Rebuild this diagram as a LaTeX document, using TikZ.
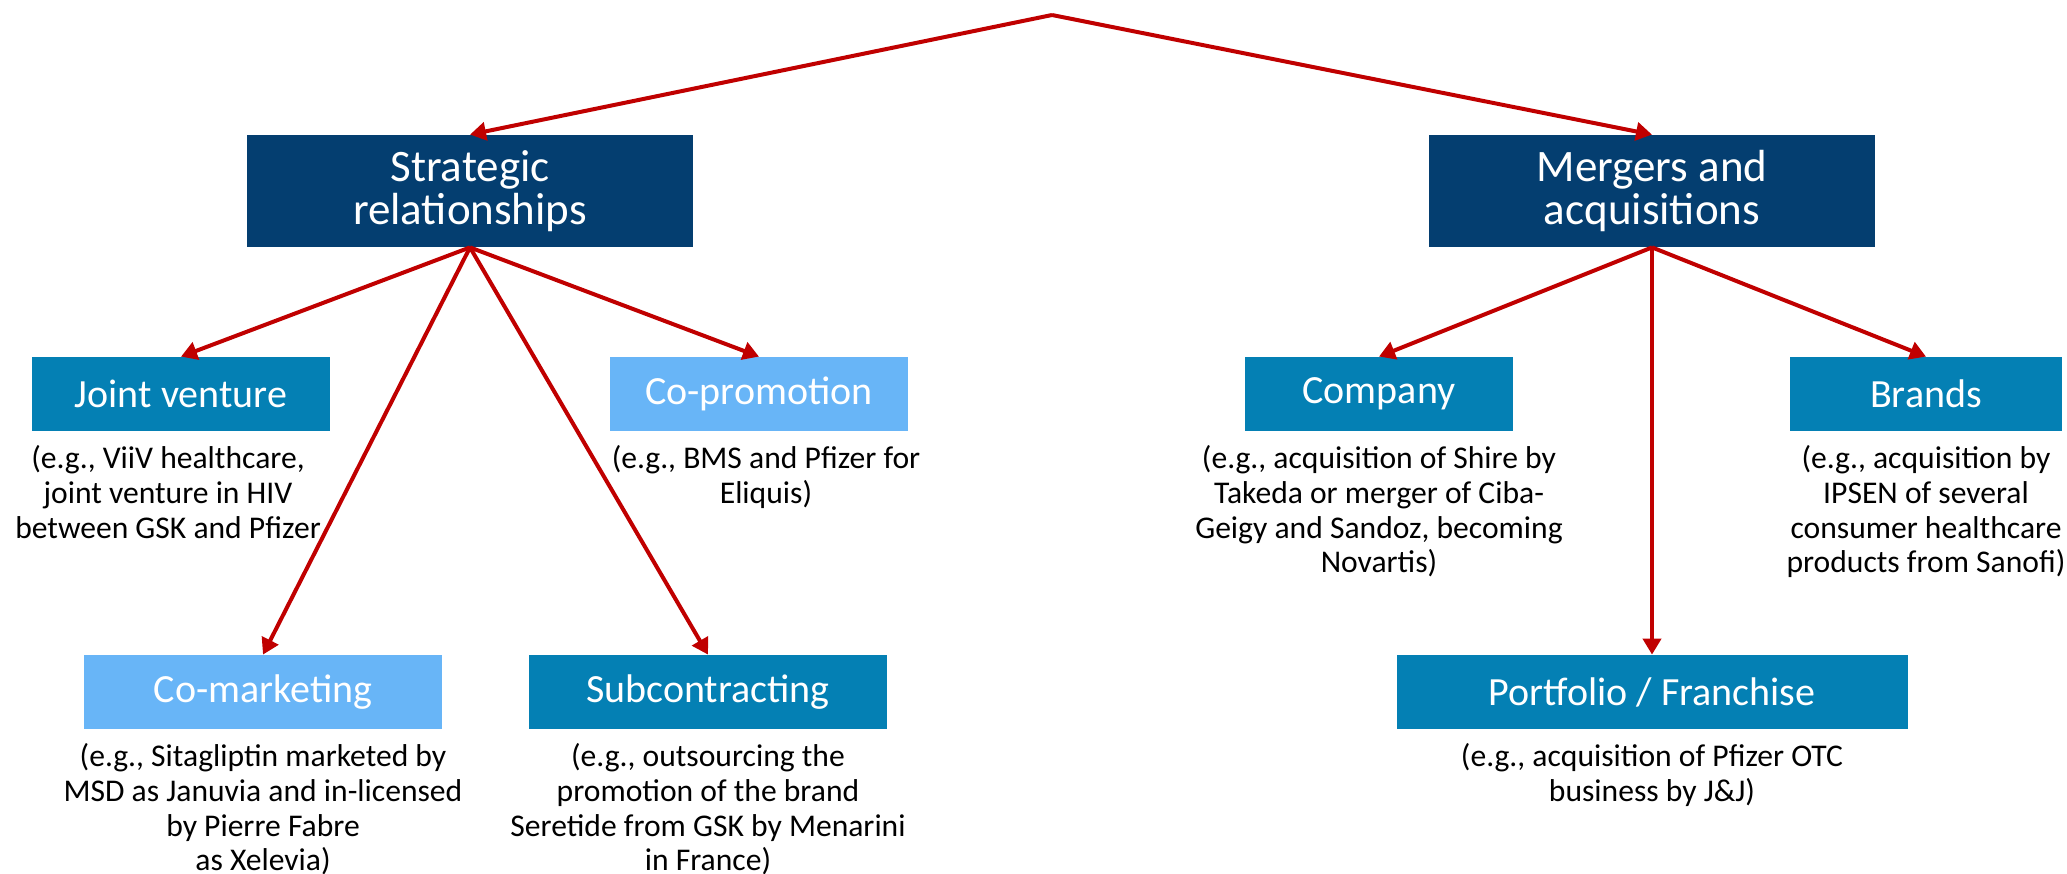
\documentclass[tikz,border=0pt]{standalone}
\usepackage{fontspec}
\setmainfont{Carlito}
\usepackage{tikz}
\usetikzlibrary{arrows.meta,positioning}
\definecolor{azuloscuro}{HTML}{043E70}
\definecolor{azulmedio}{HTML}{0480B4}
\definecolor{azulclaro}{HTML}{68B5F7}
\definecolor{rojo}{HTML}{C00000}
\tikzset{
  caja/.style={fill=azulmedio,text=white,align=center,font=\fontsize{20}{22}\selectfont,inner sep=0pt,minimum height=37pt},
  cajaclara/.style={caja,fill=azulclaro},
  cajaprin/.style={caja,fill=azuloscuro,font=\fontsize{22.5}{21.5}\selectfont,minimum width=223pt,minimum height=56pt},
  ejemplo/.style={align=center,font=\fontsize{15.8}{17.3}\selectfont,inner sep=0pt},
  flecha/.style={-{Triangle[length=8pt,width=9pt]},line width=2pt,rojo},
}
\begin{document}
\begin{tikzpicture}[x=0.5pt,y=-0.5pt]
  \fill[white] (0,0) rectangle (2067,873);
  \useasboundingbox (0,0) rectangle (2067,873);
  \coordinate (raiz) at (1052,15);
  \node[cajaprin] (estr) at (470,191) {Strategic\\relationships};
  \node[cajaprin] (fusion) at (1652,191) {Mergers and\\acquisitions};
  \node[caja,minimum width=149pt] (jv) at (181,394) {Joint venture};
  \node[cajaclara,minimum width=149pt] (copro) at (759,394) {Co-promotion};
  \node[cajaclara,minimum width=179pt] (comar) at (263,692) {Co-marketing};
  \node[caja,minimum width=179pt] (subc) at (708,692) {Subcontracting};
  \node[caja,minimum width=134pt] (comp) at (1379,394) {Company};
  \node[caja,minimum width=136pt] (marcas) at (1926,394) {Brands};
  \node[caja,minimum width=255.5pt] (port) at (1652,692) {Portfolio / Franchise};
  \node[ejemplo,below=7pt of jv,xshift=-6.5pt] (ejjv) {(e.g., ViiV healthcare,\\joint venture in HIV\\between GSK and Pfizer};
  \node[ejemplo,below=7pt of copro,xshift=3.5pt] (ejcopro) {(e.g., BMS and Pfizer for\\Eliquis)};
  \node[ejemplo,below=7pt of comar] (ejcomar) {(e.g., Sitagliptin marketed by\\MSD as Januvia and in-licensed\\by Pierre Fabre\\as Xelevia)};
  \node[ejemplo,below=7pt of subc] (ejsubc) {(e.g., outsourcing the\\promotion of the brand\\Seretide from GSK by Menarini\\in France)};
  \node[ejemplo,below=7pt of comp] (ejcomp) {(e.g., acquisition of Shire by\\Takeda or merger of Ciba-\\Geigy and Sandoz, becoming\\Novartis)};
  \node[ejemplo,below=7pt of marcas] (ejmarcas) {(e.g., acquisition by\\IPSEN of several\\consumer healthcare\\products from Sanofi)};
  \node[ejemplo,below=7pt of port] (ejport) {(e.g., acquisition of Pfizer OTC\\business by J\&J)};
  \draw[flecha] (raiz) -- (estr.north);
  \draw[flecha] (raiz) -- (fusion.north);
  \draw[flecha] (estr.south) -- (jv.north);
  \draw[flecha] (estr.south) -- (copro.north);
  \draw[flecha] (estr.south) -- (comar.north);
  \draw[flecha] (estr.south) -- (subc.north);
  \draw[flecha] (fusion.south) -- (comp.north);
  \draw[flecha] (fusion.south) -- (marcas.north);
  \draw[flecha] (fusion.south) -- (port.north);
\end{tikzpicture}
\end{document}
